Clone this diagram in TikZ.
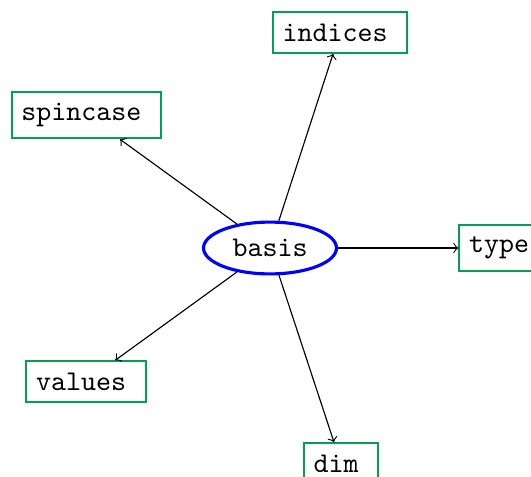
\documentclass[tikz,border=0pt]{standalone}
\usetikzlibrary{shapes.geometric}
\definecolor{boxgreen}{RGB}{0,160,85}
\newcommand{\padr}{\kern3.5pt\relax}
\begin{document}
\begin{tikzpicture}[x=0.35pt,y=-0.35pt,
  leaf/.style={draw=boxgreen,line width=0.7pt,font=\ttfamily,inner xsep=3.33pt,inner ysep=4pt},
  hub/.style={ellipse,draw=blue,line width=1.1pt,font=\ttfamily,inner sep=3.33pt},
  conn/.style={->,line width=0.4pt}]
\useasboundingbox (0,0) rectangle (531,477);
\node[hub] (basis) at (270,248) {basis};
\node[leaf] (indices) at (340,32.5) {indices\padr};
\node[leaf] (spincase) at (86.5,115) {spincase\padr};
\node[leaf] (values) at (86,381.5) {values\padr};
\node[leaf] (type) at (504,248) {type\padr};
\node[leaf] (dim) at (341,463.5) {dim\padr};
\draw[conn] (basis) -- (indices);
\draw[conn] (basis) -- (spincase);
\draw[conn] (basis) -- (values);
\draw[conn] (basis) -- (type);
\draw[conn] (basis) -- (dim);
\end{tikzpicture}
\end{document}
